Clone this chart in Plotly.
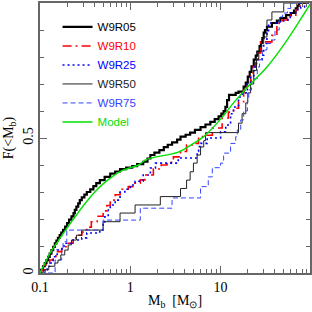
import plotly.graph_objects as go

# ---- data ----
r05_m = [0.1, 0.108, 0.113, 0.118, 0.123, 0.128, 0.134, 0.14, 0.146, 0.152, 0.158, 0.165, 0.172, 0.18,
         0.19, 0.2, 0.21, 0.223, 0.235, 0.243, 0.253, 0.265, 0.276, 0.29, 0.31, 0.33, 0.36, 0.39, 0.42,
         0.46, 0.52, 0.6, 0.68, 0.77, 0.9, 1.05, 1.19, 1.39, 1.55, 1.67, 1.85, 2.1, 2.35, 2.6, 2.9, 3.3,
         3.6, 4.1, 4.6, 5.2, 6.0, 6.8, 7.7, 8.6, 9.5, 10.2, 10.8, 11.3, 11.8, 12.4, 14.7, 15.8, 18, 19,
         20, 21, 22, 23.3, 24.5, 25.5, 27, 28, 29, 30, 31, 32.6, 37, 42, 46, 53, 60, 65, 68, 71, 74, 95]
r05_f = [0.012, 0.025, 0.037, 0.048, 0.06, 0.072, 0.085, 0.097, 0.11, 0.12, 0.13, 0.14, 0.15, 0.16,
         0.172, 0.185, 0.198, 0.21, 0.222, 0.234, 0.246, 0.258, 0.27, 0.28, 0.29, 0.3, 0.31, 0.322, 0.333,
         0.344, 0.356, 0.368, 0.376, 0.385, 0.39, 0.396, 0.403, 0.412, 0.424, 0.437, 0.446, 0.455, 0.466,
         0.475, 0.484, 0.494, 0.505, 0.512, 0.52, 0.53, 0.54, 0.55, 0.56, 0.57, 0.58, 0.59, 0.6, 0.615,
         0.64, 0.66, 0.667, 0.672, 0.69, 0.705, 0.727, 0.745, 0.765, 0.79, 0.805, 0.82, 0.84, 0.855, 0.87,
         0.89, 0.9, 0.912, 0.926, 0.935, 0.944, 0.955, 0.963, 0.972, 0.98, 0.99, 1.0, 1.0]

r10_m = [0.1, 0.105, 0.114, 0.128, 0.14, 0.15, 0.174, 0.2, 0.233, 0.26, 0.29, 0.33, 0.37, 0.43, 0.5,
         0.55, 0.6, 0.68, 0.77, 0.95, 1.1, 1.29, 1.45, 1.8, 2.2, 2.55, 3.0, 3.6, 4.2, 5.0, 5.7, 6.8, 8.1,
         10.4, 12.2, 13.9, 15.8, 18, 19.8, 21.5, 23, 24.5, 26, 27.8, 37, 42, 48.6, 55, 60, 68, 71, 76, 95]
r10_f = [0.0, 0.012, 0.03, 0.048, 0.06, 0.079, 0.097, 0.11, 0.13, 0.14, 0.152, 0.17, 0.19, 0.21, 0.23,
         0.25, 0.27, 0.29, 0.31, 0.32, 0.333, 0.345, 0.363, 0.385, 0.4, 0.41, 0.43, 0.45, 0.474, 0.48,
         0.505, 0.51, 0.537, 0.574, 0.596, 0.61, 0.634, 0.678, 0.70, 0.735, 0.765, 0.79, 0.815, 0.856,
         0.88, 0.926, 0.937, 0.948, 0.955, 0.975, 0.99, 1.0, 1.0]

r25_m = [0.1, 0.11, 0.12, 0.129, 0.14, 0.155, 0.175, 0.19, 0.225, 0.29, 0.33, 0.46, 0.5, 0.52, 0.57,
         0.6, 0.68, 0.77, 0.87, 1.0, 1.13, 1.39, 1.67, 1.9, 3.4, 5.5, 5.7, 6.0, 7.1, 10, 11.4, 12.9,
         13.9, 15.8, 17.3, 19.8, 21.5, 23.3, 25, 28.8, 30, 32.6, 34, 42.5, 50, 59, 68, 77, 85, 95]
r25_f = [0.0, 0.012, 0.025, 0.037, 0.06, 0.085, 0.1, 0.11, 0.122, 0.13, 0.148, 0.159, 0.185, 0.208,
         0.233, 0.252, 0.27, 0.3, 0.31, 0.326, 0.34, 0.363, 0.389, 0.407, 0.426, 0.45, 0.468, 0.48, 0.5,
         0.523, 0.548, 0.59, 0.615, 0.652, 0.667, 0.70, 0.73, 0.763, 0.79, 0.807, 0.85, 0.889, 0.926,
         0.93, 0.937, 0.963, 0.975, 0.985, 1.0, 1.0]

r50_m = [0.1, 0.114, 0.125, 0.146, 0.158, 0.17, 0.188, 0.205, 0.223, 0.253, 0.29, 0.5, 0.77, 1.13,
         2.15, 3.6, 4.2, 4.6, 5.0, 5.5, 6.0, 6.5, 6.8, 15.8, 17.3, 19, 20, 21.5, 23.3, 25, 26.5, 28.5,
         30, 32.6, 37, 50, 95]
r50_f = [0.0, 0.012, 0.025, 0.037, 0.048, 0.067, 0.085, 0.104, 0.122, 0.14, 0.159, 0.19, 0.222, 0.252,
         0.283, 0.313, 0.344, 0.375, 0.407, 0.437, 0.467, 0.49, 0.52, 0.555, 0.59, 0.63, 0.667, 0.70,
         0.75, 0.79, 0.82, 0.85, 0.874, 0.937, 0.967, 1.0, 1.0]

r75_m = [0.1, 0.147, 0.174, 0.18, 0.198, 0.5, 1.29, 2.9, 6.0, 7.3, 8.1, 10, 10.8, 12.9, 14.7, 15.3,
         16.7, 18, 19.8, 20.5, 22, 25.5, 27, 29, 32.6, 36, 40, 44.6, 48.6, 55, 60, 95]
r75_f = [0.0, 0.048, 0.085, 0.116, 0.159, 0.196, 0.24, 0.278, 0.32, 0.356, 0.39, 0.407, 0.444, 0.48,
         0.505, 0.53, 0.567, 0.6, 0.64, 0.678, 0.72, 0.763, 0.79, 0.826, 0.85, 0.863, 0.9, 0.948, 0.963,
         0.98, 1.0, 1.0]

model_m = [0.1, 0.115, 0.13, 0.16, 0.2, 0.25, 0.3, 0.35, 0.4, 0.5, 0.65, 0.8, 1.0, 1.23, 1.5, 3.4,
           5, 6.5, 10, 13.9, 20, 33, 50, 77, 100]
model_f = [0.0, 0.04, 0.075, 0.12, 0.168, 0.212, 0.248, 0.276, 0.298, 0.33, 0.36, 0.378, 0.39, 0.40,
           0.42, 0.448, 0.48, 0.505, 0.57, 0.63, 0.69, 0.765, 0.845, 0.94, 1.0]

x_tickvals = [0.1, 1, 10]
x_ticktext = ["0.1", "1", "10"]
x_minor = [0.2, 0.3, 0.4, 0.5, 0.6, 0.7, 0.8, 0.9, 2, 3, 4, 5, 6, 7, 8, 9, 20, 30, 40, 50, 60, 70, 80, 90]
y_tickvals = [0, 0.5, 1]
y_ticktext = ["0", "0.5", "1"]
y_minor = [0.1, 0.2, 0.3, 0.4, 0.6, 0.7, 0.8, 0.9]

# ---- figure ----
fig = go.Figure()
series = [
    (r05_m, r05_f, 'W9R05', '#000000', 2.2, 'solid', 'hv'),
    (r10_m, r10_f, 'W9R10', '#ff0000', 1.6, '9px,4px,2px,4px', 'hv'),
    (r25_m, r25_f, 'W9R25', '#0000ff', 1.6, '2px,3px', 'hv'),
    (r50_m, r50_f, 'W9R50', '#222222', 1.0, 'solid', 'hv'),
    (r75_m, r75_f, 'W9R75', '#3344ff', 1.0, '5px,3px', 'hv'),
    (model_m, model_f, 'Model', '#00e000', 1.4, 'solid', 'spline'),
]
for m, f, name, col, w, dash, shape in series:
    fig.add_trace(go.Scatter(
        x=m, y=f, mode='lines',
        name=f'<span style="color:{col}">{name}</span>',
        line=dict(color=col, width=w, dash=dash, shape=shape),
    ))

axis_common = dict(
    showline=True, linecolor='#666666', linewidth=1.5, mirror='allticks',
    ticks='inside', ticklen=7, tickcolor='#666666', tickwidth=1,
    showgrid=False, zeroline=False, automargin=False,
    tickfont=dict(family='Liberation Serif', size=14, color='black'),
)
fig.update_xaxes(
    type='log', range=[-1, 1.99],
    tickvals=x_tickvals, ticktext=x_ticktext,
    minor=dict(tickvals=x_minor, ticks='inside', ticklen=4, tickcolor='#666666'),
    title=dict(text='M<sub>b</sub>  [M<sub>⊙</sub>]', standoff=2,
               font=dict(family='Liberation Serif', size=14, color='black')),
    **axis_common,
)
fig.update_yaxes(
    range=[0, 1],
    tickvals=y_tickvals, ticktext=y_ticktext, tickangle=-90,
    minor=dict(tickvals=y_minor, ticks='inside', ticklen=4, tickcolor='#666666'),
    title=dict(text='F(&lt;M<sub>b</sub>)', standoff=4,
               font=dict(family='Liberation Serif', size=14, color='black')),
    **axis_common,
)
fig.update_layout(
    width=312, height=312,
    margin=dict(l=40, r=2, t=3, b=39),
    paper_bgcolor='white', plot_bgcolor='white',
    showlegend=True,
    legend=dict(x=0.065, y=0.965, xanchor='left', yanchor='top',
                bgcolor='rgba(0,0,0,0)', borderwidth=0,
                font=dict(family='Liberation Sans', size=11.5, color='black'),
                itemwidth=30, tracegroupgap=0),
)
fig.write_html("out.html",
               config={'displayModeBar': False},
               post_script="document.body.style.margin='0';document.body.style.overflow='hidden';")
